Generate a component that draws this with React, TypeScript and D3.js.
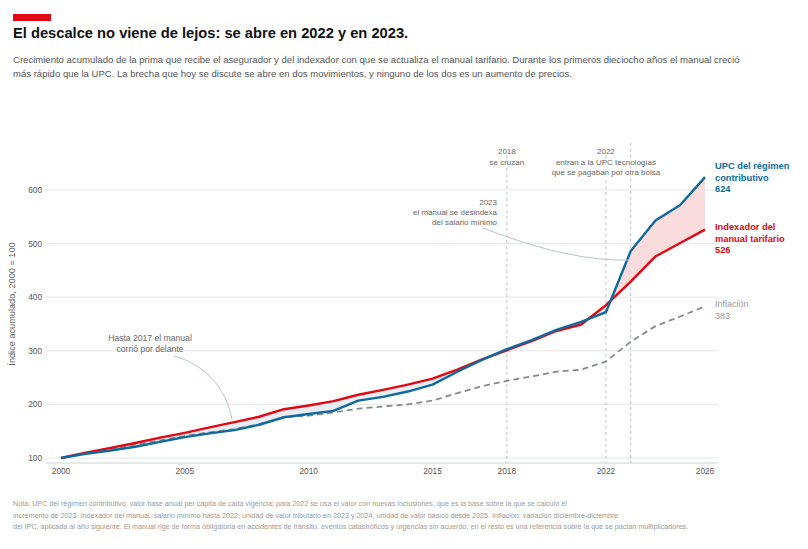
import { useMemo } from 'react';
import * as d3 from 'd3';

// Índice acumulado, 2000 = 100
const years = [2000, 2001, 2002, 2003, 2004, 2005, 2006, 2007, 2008, 2009, 2010, 2011, 2012, 2013, 2014, 2015, 2016, 2017, 2018, 2019, 2020, 2021, 2022, 2023, 2024, 2025, 2026];
const upc = [100, 108, 114, 121, 130, 139, 146, 152, 162, 176, 182, 188, 207, 214, 224, 237, 261, 283, 303, 320, 339, 354, 372, 486, 543, 572, 624];
const manual = [100, 110, 119, 128, 138, 147, 157, 167, 177, 191, 198, 206, 218, 227, 237, 248, 265, 284, 301, 318, 337, 349, 385, 429, 476, 501, 526];
const inflacion = [100, 109, 117, 125, 133, 141, 148, 154, 163, 176, 179, 185, 192, 196, 200, 207, 221, 234, 244, 252, 261, 265, 280, 317, 346, 364, 383];

const xTicks = [2000, 2005, 2010, 2015, 2018, 2022, 2026];
const yTicks = [100, 200, 300, 400, 500, 600];

const subtitle = [
    'Crecimiento acumulado de la prima que recibe el asegurador y del indexador con que se actualiza el manual tarifario. Durante los primeros dieciocho años el manual creció',
    'más rápido que la UPC. La brecha que hoy se discute se abre en dos movimientos, y ninguno de los dos es un aumento de precios.',
];
const notes = [
    'Nota: UPC del régimen contributivo, valor base anual per cápita de cada vigencia; para 2022 se usa el valor con nuevas inclusiones, que es la base sobre la que se calculó el',
    'incremento de 2023. Indexador del manual: salario mínimo hasta 2022, unidad de valor tributario en 2023 y 2024, unidad de valor básico desde 2025. Inflación: variación diciembre-diciembre',
    'del IPC, aplicada al año siguiente. El manual rige de forma obligatoria en accidentes de tránsito, eventos catastróficos y urgencias sin acuerdo; en el resto es una referencia sobre la que se pactan multiplicadores.',
];

const BLUE = '#0d6aa0';
const RED = '#e30613';
const FONT = '"Liberation Sans", Arial, Helvetica, sans-serif';

export default function App() {
    const W = 808;
    const H = 549;

    const x = useMemo(() => d3.scaleLinear().domain([2000, 2026]).range([61, 705]), []);
    const y = useMemo(() => d3.scaleLinear().domain([100, 600]).range([458, 190]), []);

    const rows = years.map((yr, i) => ({ yr, upc: upc[i], manual: manual[i], inf: inflacion[i] }));
    type Row = (typeof rows)[number];

    const lineUpc = d3.line<Row>().x(d => x(d.yr)).y(d => y(d.upc))(rows) || '';
    const lineManual = d3.line<Row>().x(d => x(d.yr)).y(d => y(d.manual))(rows) || '';
    const lineInf = d3.line<Row>().x(d => x(d.yr)).y(d => y(d.inf))(rows) || '';
    const band = d3.area<Row>().x(d => x(d.yr)).y0(d => y(d.upc)).y1(d => y(d.manual))(rows) || '';
    // regions above / below the UPC line, used to split the band colour
    const aboveUpc = d3.area<Row>().x(d => x(d.yr)).y0(0).y1(d => y(d.upc))(rows) || '';
    const belowUpc = d3.area<Row>().x(d => x(d.yr)).y0(H).y1(d => y(d.upc))(rows) || '';

    const axisY = y(100) + 5;
    const halo = { paintOrder: 'stroke' as const, stroke: '#fff', strokeWidth: 3, strokeLinejoin: 'round' as const };

    return (
        <div style={{ position: 'absolute', left: 0, top: 0 }}>
            <svg width={W} height={H} style={{ display: 'block', background: '#fff', fontFamily: FONT }}>
                <defs>
                    <clipPath id="clip-above"><path d={aboveUpc} /></clipPath>
                    <clipPath id="clip-below"><path d={belowUpc} /></clipPath>
                </defs>

                {/* Header */}
                <rect x={13} y={14} width={38} height={7} fill={RED} />
                <text x={13} y={37.7} fontSize={14.7} fontWeight="bold" fill="#111">
                    El descalce no viene de lejos: se abre en 2022 y en 2023.
                </text>
                {subtitle.map((t, i) => (
                    <text key={i} x={13} y={62.5 + i * 14} fontSize={9.55} fill="#555">{t}</text>
                ))}

                {/* Grid */}
                {yTicks.map(t => (
                    <g key={t}>
                        <line x1={46} x2={718} y1={y(t)} y2={y(t)} stroke="#e6e6e6" strokeWidth={1} />
                        <text x={42} y={y(t) + 3} fontSize={8.3} fill="#555" textAnchor="end">{t}</text>
                    </g>
                ))}
                <line x1={46} x2={718} y1={axisY} y2={axisY} stroke="#c9d3d8" strokeWidth={1.2} />
                {xTicks.map(t => (
                    <text key={t} x={x(t)} y={axisY + 11} fontSize={8.3} fill="#555" textAnchor="middle">{t}</text>
                ))}
                <text transform={`translate(14.5,304) rotate(-90)`} fontSize={9.2} fill="#666" textAnchor="middle">
                    Índice acumulado, 2000 = 100
                </text>

                {/* Event markers */}
                <line x1={x(2018)} x2={x(2018)} y1={156} y2={axisY} stroke="#bcc3c7" strokeDasharray="3,3" />
                <line x1={x(2022)} x2={x(2022)} y1={156} y2={axisY} stroke="#bcc3c7" strokeDasharray="3,3" />
                <line x1={x(2023)} x2={x(2023)} y1={143} y2={axisY} stroke="#bcc3c7" strokeDasharray="3,3" />

                {/* Gap between manual and UPC */}
                <path d={band} fill="#e9ecf0" clipPath="url(#clip-above)" />
                <path d={band} fill="#fadcdc" clipPath="url(#clip-below)" />

                {/* Series */}
                <path d={lineInf} fill="none" stroke="#868a8c" strokeWidth={1.8} strokeDasharray="6,4" />
                <path d={lineManual} fill="none" stroke={RED} strokeWidth={2.4} strokeLinejoin="round" />
                <path d={lineUpc} fill="none" stroke={BLUE} strokeWidth={2.4} strokeLinejoin="round" />

                {/* Annotations */}
                <g fontSize={8} fill="#666" textAnchor="middle" style={halo}>
                    <text x={x(2018)} y={154}>2018</text>
                    <text x={x(2018)} y={164.5}>se cruzan</text>
                    <text x={x(2022)} y={154}>2022</text>
                    <text x={x(2022)} y={164.5}>entran a la UPC tecnologías</text>
                    <text x={x(2022)} y={174.5}>que se pagaban por otra bolsa</text>
                </g>
                <g fontSize={8} fill="#666" textAnchor="end" style={halo}>
                    <text x={497} y={204.5}>2023</text>
                    <text x={497} y={214.5}>el manual se desindexa</text>
                    <text x={497} y={224.5}>del salario mínimo</text>
                </g>
                <path d="M483,228 Q570,262 630,260" fill="none" stroke="#b3c6cd" strokeWidth={1} />

                <g fontSize={8.6} fill="#666" textAnchor="middle">
                    <text x={150} y={340.5}>Hasta 2017 el manual</text>
                    <text x={150} y={351.5}>corrió por delante</text>
                </g>
                <path d="M174,356 C203,364 226,386 232,420" fill="none" stroke="#b3c6cd" strokeWidth={1} />

                {/* End labels */}
                <g fontSize={9.3} fontWeight="bold" fill={BLUE}>
                    <text x={715} y={169}>UPC del régimen</text>
                    <text x={715} y={180.5}>contributivo</text>
                    <text x={715} y={192}>{upc[upc.length - 1]}</text>
                </g>
                <g fontSize={9.3} fontWeight="bold" fill={RED}>
                    <text x={715} y={230}>Indexador del</text>
                    <text x={715} y={241.5}>manual tarifario</text>
                    <text x={715} y={253}>{manual[manual.length - 1]}</text>
                </g>
                <g fontSize={9} fill="#9a9a9a">
                    <text x={715} y={307}>Inflación</text>
                    <text x={715} y={318.5}>{inflacion[inflacion.length - 1]}</text>
                </g>

                {/* Footnote */}
                {notes.map((t, i) => (
                    <text key={i} x={13} y={506 + i * 11.5} fontSize={7.2} fill="#9a9a9a">{t}</text>
                ))}
            </svg>
        </div>
    );
}
